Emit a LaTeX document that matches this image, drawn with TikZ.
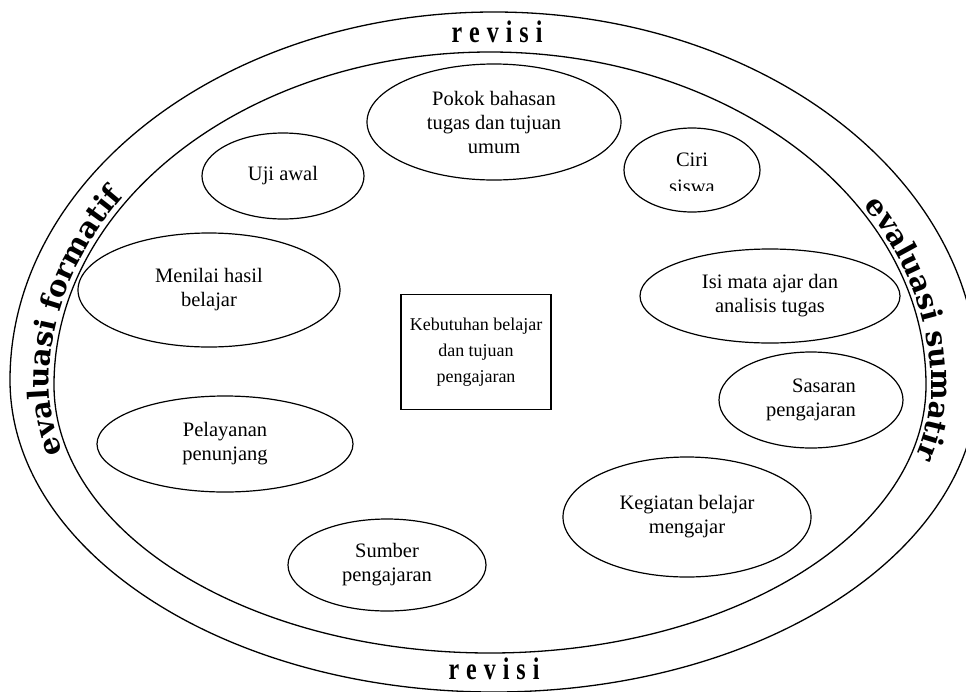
\documentclass[tikz,border=0pt]{standalone}
\usepackage{fontspec}
\usepackage{graphicx}
\setmainfont{Liberation Serif}
\newfontfamily\ringfont{DejaVu Serif}
\usetikzlibrary{shapes.geometric,decorations.text}

\tikzstyle{bubble} = [ellipse, draw, line width=1.2pt, align=center, inner sep=0pt,
	font=\fontsize{20.5}{24}\selectfont]
\tikzstyle{goalbox} = [rectangle, draw, line width=1.2pt, align=center, inner sep=0pt,
	minimum width=150pt, minimum height=115pt, font=\fontsize{18}{26}\selectfont]
\tikzstyle{revlabel} = [inner sep=0pt, font=\bfseries\fontsize{24}{24}\selectfont]
\tikzstyle{ring} = [line width=1.3pt]
\newcommand{\sidefont}{\ringfont\bfseries\fontsize{29}{29}\selectfont}
\newcommand{\revword}{\scalebox{1}[1.3]{r\kern7pt e\kern7pt v\kern7pt i\kern7pt s\kern7pt i}}

\begin{document}
\begin{tikzpicture}[x=1pt,y=1pt]
\useasboundingbox (0,0) rectangle (966,-691);
% the two rings, a bit wider below their middle
\draw[ring] (10,-380) arc[start angle=180, end angle=0, x radius=484, y radius=368]
	arc[start angle=0, end angle=-180, x radius=484, y radius=312] -- cycle;
\draw[ring] (54,-385) arc[start angle=180, end angle=0, x radius=436, y radius=333]
	arc[start angle=0, end angle=-180, x radius=436, y radius=268] -- cycle;
\node[revlabel] (revtop) at (497,-32) {\revword};
\node[revlabel] (revbot) at (494,-669) {\revword};
\path[decorate, decoration={text along path, text align={align=center},
	text={|\sidefont|evaluasi formatif}}]
	([shift={(490,-385)}]197:441 and 273) arc[start angle=197, end angle=180, x radius=441, y radius=273]
	arc[start angle=180, end angle=144, x radius=441, y radius=338];
\path[decorate, decoration={text along path, text align={align=center},
	text={|\sidefont|evaluasi sumatir}}]
	([shift={(490,-385)}]35:441 and 338) arc[start angle=35, end angle=0, x radius=441, y radius=338]
	arc[start angle=0, end angle=-19, x radius=441, y radius=273];
% inner ellipses
\node[bubble, minimum width=254pt, minimum height=116pt] (pokok) at (494,-122)
	{Pokok bahasan\\tugas dan tujuan\\umum};
\node[bubble, minimum width=162pt, minimum height=86pt] (ujiawal) at (283,-176) {Uji awal};
\node[bubble, minimum width=136pt, minimum height=84pt] (ciri) at (692,-170) {};
\begin{scope}
	\clip (600,-100) rectangle (780,-190);
	\node[align=center, inner sep=0pt, font=\fontsize{20.5}{27}\selectfont] (ciritext) at (692,-173.5)
		{Ciri\\siswa};
\end{scope}
\node[bubble, minimum width=262pt, minimum height=114pt] (menilai) at (209,-290)
	{Menilai hasil\\belajar};
\node[bubble, minimum width=260pt, minimum height=94pt] (isi) at (770,-296)
	{Isi mata ajar dan\\analisis tugas};
\node[goalbox] (kebutuhan) at (476,-352) {Kebutuhan belajar\\dan tujuan\\pengajaran};
\node[bubble, align=right, minimum width=184pt, minimum height=96pt] (sasaran) at (811,-400)
	{Sasaran\\pengajaran};
\node[bubble, minimum width=256pt, minimum height=96pt] (pelayanan) at (225,-444)
	{Pelayanan\\penunjang};
\node[bubble, minimum width=248pt, minimum height=120pt] (kegiatan) at (687,-517)
	{Kegiatan belajar\\mengajar};
\node[bubble, minimum width=198pt, minimum height=92pt] (sumber) at (387,-565)
	{Sumber\\pengajaran};
\end{tikzpicture}
\end{document}
